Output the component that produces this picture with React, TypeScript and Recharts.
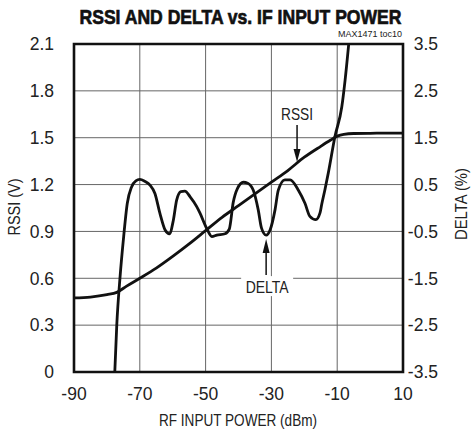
import React from 'react';
import { LineChart, Line, XAxis, YAxis, CartesianGrid, ReferenceArea, ReferenceDot } from 'recharts';

const xTicks = [-90, -70, -50, -30, -10, 10];
const rssiTicks = [0, 0.3, 0.6, 0.9, 1.2, 1.5, 1.8, 2.1];
const deltaTicks = [-3.5, -2.5, -1.5, -0.5, 0.5, 1.5, 2.5, 3.5];

const rssiPower = [-90, -85, -80, -77, -74, -70, -65, -60, -55, -50, -45, -40, -35, -30, -25, -20, -15, -12, -10, -8, -5, 0, 5, 10];
const rssiVolts = [0.475, 0.48, 0.495, 0.51, 0.55, 0.6, 0.665, 0.74, 0.82, 0.905, 0.99, 1.065, 1.14, 1.215, 1.29, 1.375, 1.445, 1.485, 1.51, 1.522, 1.527, 1.528, 1.53, 1.53];

const deltaPower = [-77.6, -77.0, -76.0, -75.0, -73.8, -72.5, -71.2, -70.0, -68.5, -66.9, -65.4, -63.9, -62.3, -61.0, -59.8, -58.8, -57.5, -56.3, -54.7, -52.7, -51.7, -49.7, -48.1, -46.6, -44.1, -42.8, -41.6, -40.3, -38.5, -37.2, -35.5, -34.0, -33.0, -31.6, -30.4, -28.9, -27.9, -25.9, -24.3, -21.8, -19.8, -18.3, -16.5, -15.2, -14.7, -13.7, -12.7, -10.7, -8.6, -7.6, -6.5];
const deltaPct = [-3.5, -2.5, -1.47, -0.68, 0.1, 0.45, 0.58, 0.61, 0.57, 0.49, 0.31, -0.11, -0.47, -0.55, -0.26, 0.17, 0.35, 0.36, 0.24, 0.03, -0.11, -0.43, -0.61, -0.58, -0.55, -0.45, 0.12, 0.42, 0.55, 0.53, 0.38, -0.04, -0.43, -0.58, -0.47, -0.04, 0.38, 0.6, 0.6, 0.38, 0.1, -0.18, -0.25, -0.1, 0.08, 0.4, 0.75, 1.52, 2.16, 2.73, 3.5];

const rssiData = rssiPower.map((p, i) => ({ p, v: rssiVolts[i] }));
const deltaData = deltaPower.map((p, i) => ({ p, d: deltaPct[i] }));

const F = "'Liberation Sans Narrow', 'Arial Narrow', 'Liberation Sans', Arial, sans-serif";
const TXT = '#222';

const fmtRssi = (v: number) => (v === 0 ? '0' : v.toFixed(1));
const fmtDelta = (v: number) => v.toFixed(1);

const LeftTick = (props: any) => (
  <text x={props.x} y={props.y} dy={6.3} textAnchor="end" fontSize={17.5} fontFamily={F} fill={TXT}>
    {fmtRssi(props.payload.value)}
  </text>
);
const RightTick = (props: any) => (
  <text x={props.x} y={props.y} dy={6.3} textAnchor="end" fontSize={17.5} fontFamily={F} fill={TXT}>
    {fmtDelta(props.payload.value)}
  </text>
);
const BottomTick = (props: any) => (
  <text x={props.x} y={props.y} dy={12.8} textAnchor="middle" fontSize={17.5} fontFamily={F} fill={TXT}>
    {String(props.payload.value)}
  </text>
);

const RssiArrow = (props: any) => {
  const { cx, cy } = props;
  return (
    <g>
      <line x1={cx} y1={cy - 37} x2={cx} y2={cy - 12} stroke="#111" strokeWidth={1.5} />
      <polygon points={`${cx - 3.5},${cy - 13} ${cx + 3.5},${cy - 13} ${cx},${cy}`} fill="#111" />
      <text x={cx} y={cy - 42} textAnchor="middle" fontSize={17} fontFamily={F} fill={TXT} textLength={32} lengthAdjust="spacingAndGlyphs">RSSI</text>
    </g>
  );
};

const DeltaArrow = (props: any) => {
  const { cx, cy } = props;
  const tip = cy + 3;
  return (
    <g>
      <rect x={cx - 25} y={tip + 37} width={52} height={20} fill="#fff" />
      <line x1={cx} y1={tip + 12} x2={cx} y2={tip + 36} stroke="#111" strokeWidth={1.5} />
      <polygon points={`${cx - 3.5},${tip + 14} ${cx + 3.5},${tip + 14} ${cx},${tip}`} fill="#111" />
      <text x={cx + 1} y={tip + 54} textAnchor="middle" fontSize={17} fontFamily={F} fill={TXT} textLength={43} lengthAdjust="spacingAndGlyphs">DELTA</text>
    </g>
  );
};

export default function App() {
  return (
    <div style={{ position: 'absolute', left: 0, top: 0, width: 475, height: 435, background: '#fff' }}>
      <svg width={475} height={435} style={{ position: 'absolute', left: 0, top: 0 }}>
        <text x={240.5} y={23.5} textAnchor="middle" fontSize={21} fontWeight="bold" fontFamily={F} fill="#111" stroke="#111" strokeWidth={0.7} textLength={322} lengthAdjust="spacingAndGlyphs">
          RSSI AND DELTA vs. IF INPUT POWER
        </text>
        <text x={402} y={37} textAnchor="end" fontSize={9.5} fontFamily={F} fill={TXT} textLength={64} lengthAdjust="spacingAndGlyphs">
          MAX1471 toc10
        </text>
        <text x={238} y={426} textAnchor="middle" fontSize={17} fontFamily={F} fill={TXT} textLength={158} lengthAdjust="spacingAndGlyphs">
          RF INPUT POWER (dBm)
        </text>
        <text x={0} y={0} transform="translate(20,207) rotate(-90)" textAnchor="middle" fontSize={16} fontFamily={F} fill={TXT} textLength={57} lengthAdjust="spacingAndGlyphs">
          RSSI (V)
        </text>
        <text x={0} y={0} transform="translate(467,204) rotate(-90)" textAnchor="middle" fontSize={16} fontFamily={F} fill={TXT} textLength={72} lengthAdjust="spacingAndGlyphs">
          DELTA (%)
        </text>
      </svg>
      <div style={{ position: 'absolute', left: 0, top: 0 }}>
        <LineChart width={475} height={435} margin={{ top: 44, right: 0, bottom: 0, left: 0 }}>
          <CartesianGrid stroke="#666" strokeWidth={1} />
          <XAxis
            dataKey="p"
            type="number"
            domain={[-90, 10]}
            ticks={xTicks}
            allowDataOverflow
            height={63}
            tickSize={0}
            tickMargin={15}
            axisLine={false}
            tickLine={false}
            tick={<BottomTick />}
            interval={0}
          />
          <YAxis
            type="number"
            domain={[0, 2.1]}
            ticks={rssiTicks}
            allowDataOverflow
            width={74}
            tickSize={0}
            tickMargin={20}
            axisLine={false}
            tickLine={false}
            tick={<LeftTick />}
            interval={0}
          />
          <YAxis
            yAxisId="right"
            orientation="right"
            type="number"
            domain={[-3.5, 3.5]}
            ticks={deltaTicks}
            allowDataOverflow
            width={72}
            tickSize={0}
            tickMargin={35}
            axisLine={false}
            tickLine={false}
            tick={<RightTick />}
            interval={0}
          />
          <ReferenceArea x1={-90} x2={10} y1={0} y2={2.1} fill="none" stroke="#111" strokeWidth={2.6} ifOverflow="visible" />
          <Line data={rssiData} dataKey="v" type="monotone" stroke="#111" strokeWidth={2.8} dot={false} isAnimationActive={false} />
          <Line data={deltaData} dataKey="d" yAxisId="right" type="monotone" stroke="#111" strokeWidth={2.8} dot={false} isAnimationActive={false} />
          <ReferenceDot x={-22.2} y={1.345} r={0} shape={<RssiArrow />} ifOverflow="visible" />
          <ReferenceDot x={-31.6} y={-0.6} yAxisId="right" r={0} shape={<DeltaArrow />} ifOverflow="visible" />
        </LineChart>
      </div>
    </div>
  );
}
